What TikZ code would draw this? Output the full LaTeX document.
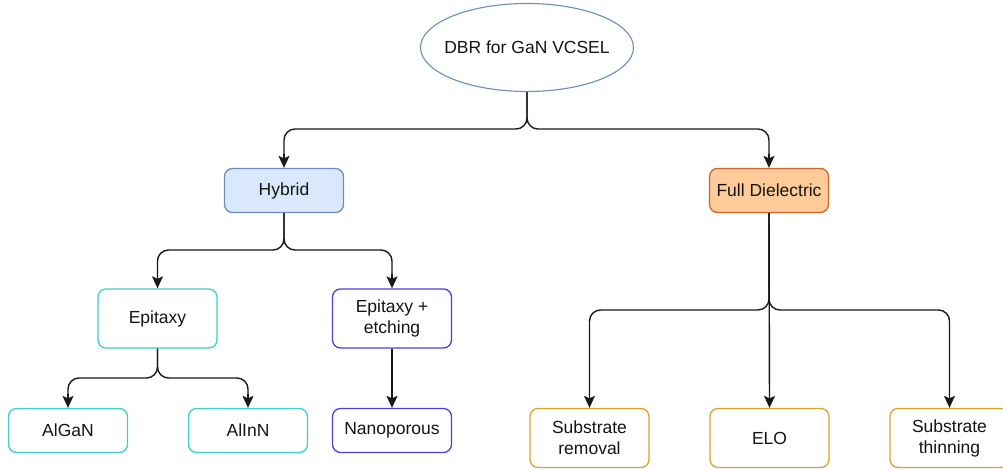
\documentclass[tikz,border=0pt]{standalone}
\usepackage{fontspec}
\setmainfont{Liberation Sans}
\usetikzlibrary{arrows.meta,shapes.geometric}
\definecolor{hybfill}{HTML}{DAE8FC}
\definecolor{hybdraw}{HTML}{6C8EBF}
\definecolor{fdfill}{HTML}{FFCC99}
\definecolor{fddraw}{HTML}{D2642A}
\definecolor{cyanb}{HTML}{3CCFCC}
\definecolor{blueb}{HTML}{4B3FE0}
\definecolor{goldb}{HTML}{D9A42A}
\definecolor{txt}{HTML}{141414}
\tikzset{
  lbl/.style={text=txt, font=\fontsize{17.5}{21}\selectfont},
  box/.style={draw, line width=1.3pt, rounded corners=8pt, minimum width=119pt, minimum height=44pt, align=center, fill=white, lbl},
  tallbox/.style={box, minimum height=59pt},
  conn/.style={line width=1.4pt, draw=black!90, rounded corners=11pt, shorten >=8pt},
  tipst/.style={line width=1.4pt, draw=black!90, fill=black!90, -{Stealth[length=12pt,width=11pt,inset=2.5pt]}},
}
\begin{document}
\begin{tikzpicture}[x=1pt,y=-1pt]
\useasboundingbox (0,0) rectangle (1003,470);
\node[ellipse, draw=hybdraw, line width=1.1pt, fill=white, minimum width=213pt, minimum height=88pt, inner sep=0pt] (root) at (527,47.5) {};
\node[lbl] (roottext) at (root.center) {DBR for GaN VCSEL};
\node[box, draw=hybdraw, fill=hybfill] (hyb) at (284,190.5) {Hybrid};
\node[box, draw=fddraw, fill=fdfill] (fd) at (769,190.5) {Full Dielectric};
\node[tallbox, draw=cyanb] (epi) at (157.5,318.5) {Epitaxy};
\node[tallbox, draw=blueb] (epe) at (392,318.5) {Epitaxy +\\etching};
\node[box, draw=cyanb] (algan) at (68,430.5) {AlGaN};
\node[box, draw=cyanb] (alinn) at (248,430.5) {AlInN};
\node[box, draw=blueb] (nano) at (392,430.5) {Nanoporous};
\node[tallbox, draw=goldb] (sr) at (589.5,438) {Substrate\\removal};
\node[tallbox, draw=goldb] (elo) at (769.5,438) {ELO};
\node[tallbox, draw=goldb] (st) at (949.5,438) {Substrate\\thinning};
\coordinate (j1) at (527,129);
\coordinate (j2) at (284,250);
\coordinate (j3) at (769,310);
\coordinate (j4) at (157.5,378);
\draw[conn] (root.south) -- (j1) -| (hyb.north);
\draw[conn] (root.south) -- (j1) -| (fd.north);
\draw[conn] (hyb.south) -- (j2) -| (epi.north);
\draw[conn] (hyb.south) -- (j2) -| (epe.north);
\draw[conn] (fd.south) -- (j3) -| (sr.north);
\draw[conn] (fd.south) -- (j3) -| (st.north);
\draw[conn] (fd.south) -- (elo.north);
\draw[conn] (epi.south) -- (j4) -| (algan.north);
\draw[conn] (epi.south) -- (j4) -| (alinn.north);
\draw[conn] (epe.south) -- (nano.north);
\foreach \n in {hyb,fd,epi,epe,algan,alinn,nano,sr,elo,st}
  \draw[tipst] (\n.north) ++(0,-14) -- (\n.north);
\end{tikzpicture}
\end{document}
